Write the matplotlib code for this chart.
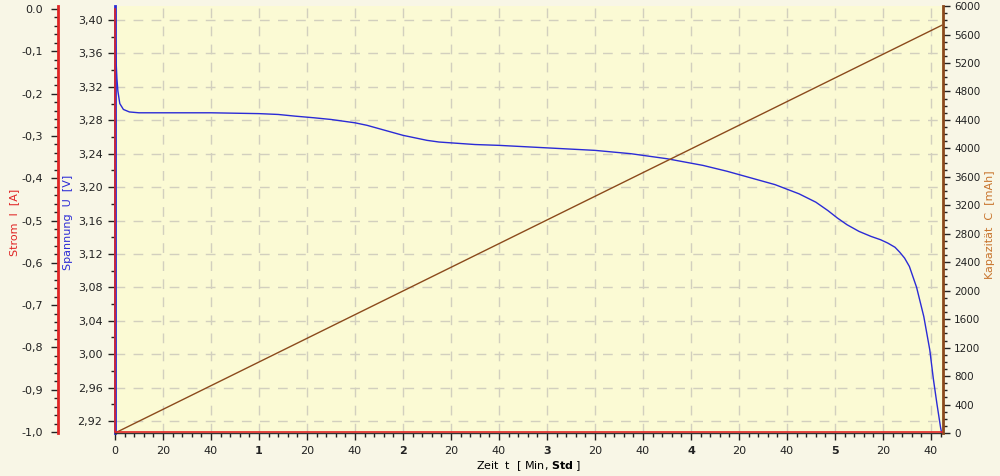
import matplotlib
matplotlib.use("Agg")
import matplotlib.pyplot as plt
from matplotlib.ticker import MultipleLocator, FixedLocator, FixedFormatter, FuncFormatter

# Entladekurve: Zeit in Minuten, Spannung in V
zeit_min = [0, 0.3, 0.8, 1.2, 2, 3.5, 6, 10, 40, 60, 68, 75, 83, 90, 95, 100, 105,
            110, 115, 120, 125, 130, 135, 140, 150, 160, 180, 200, 215, 230, 245,
            255, 265, 275, 285, 292, 297, 301, 305, 310, 315, 319, 322, 325, 327,
            329, 331, 334, 337, 339.5, 341, 342.5, 344, 344.5]
spannung_v = [3.385, 3.36, 3.33, 3.315, 3.30, 3.293, 3.290, 3.289, 3.289, 3.288,
              3.287, 3.285, 3.283, 3.281, 3.279, 3.277, 3.274, 3.270, 3.266, 3.262,
              3.259, 3.256, 3.254, 3.253, 3.251, 3.250, 3.247, 3.244, 3.240, 3.234,
              3.226, 3.219, 3.211, 3.203, 3.192, 3.182, 3.172, 3.163, 3.155, 3.147,
              3.141, 3.137, 3.133, 3.128, 3.122, 3.115, 3.105, 3.080, 3.045, 3.005,
              2.970, 2.940, 2.912, 2.905]

# Kapazitaet (mAh) und Strom (A)
kap_zeit = [0, 344.5]
kap_mah = [0, 5730]
strom_zeit = [0, 0, 344.5]
strom_a = [0.0, -1.0, -1.0]

# x-Achse: alle 20 Minuten, volle Stunden fett
x_ticks = list(range(0, 341, 20))
x_labels = [str(t // 60) if t % 60 == 0 and t > 0 else str(t % 60) for t in x_ticks]

bg = "#F8F6E6"
plot_bg = "#FBFAD4"
c_strom = "#E02525"
c_spann = "#2B2BD6"
c_kap = "#8B4A1C"
c_kap_text = "#C8742C"
grid_c = "#D2CFBE"

plt.rcParams['font.family'] = ['DejaVu Sans']
plt.rcParams['font.size'] = 8

fig = plt.figure(figsize=(10, 4.76), dpi=100, facecolor=bg)
ax = fig.add_axes([0.115, 0.0903, 0.828, 0.897])
ax.set_facecolor(plot_bg)

# Spannung
ax.plot(zeit_min, spannung_v, color=c_spann, lw=1.0, zorder=4)
ax.set_xlim(0, 345)
ax.set_ylim(2.9056, 3.4168)
ax.yaxis.set_major_locator(FixedLocator([2.92 + 0.04 * i for i in range(13)]))
ax.yaxis.set_minor_locator(MultipleLocator(0.02))
ax.yaxis.set_major_formatter(FuncFormatter(lambda v, p: f"{v:.2f}".replace(".", ",")))
ax.xaxis.set_major_locator(FixedLocator(x_ticks))
ax.xaxis.set_major_formatter(FixedFormatter(x_labels))
ax.xaxis.set_minor_locator(MultipleLocator(4))
ax.tick_params(axis='both', which='major', length=5, width=1, colors='#222222', pad=4)
ax.tick_params(axis='both', which='minor', length=3, width=1, colors='#222222')
for lab, t in zip(ax.get_xticklabels(), x_ticks):
    if t % 60 == 0 and t > 0:
        lab.set_fontweight('bold')
ax.grid(True, which='major', color=grid_c, ls=(0, (7, 6)), lw=1)
ax.set_axisbelow(True)
ax.spines['top'].set_visible(False)
ax.spines['right'].set_visible(False)
ax.spines['left'].set_color(c_spann)
ax.spines['left'].set_linewidth(2)
ax.spines['bottom'].set_color('#333333')
ax.spines['bottom'].set_linewidth(1)
ax.set_xlabel("Zeit  t  [ Min, $\\mathbf{Std}$ ]", fontsize=8, labelpad=3)

# Kapazitaet rechts
ax_k = ax.twinx()
ax_k.plot(kap_zeit, kap_mah, color=c_kap, lw=1.0, zorder=3)
ax_k.set_ylim(0, 6000)
ax_k.yaxis.set_major_locator(MultipleLocator(400))
ax_k.yaxis.set_minor_locator(MultipleLocator(100))
ax_k.tick_params(axis='y', which='major', length=5, width=1, colors='#222222', pad=3,
                 labelsize=7.5)
ax_k.tick_params(axis='y', which='minor', length=3, width=1, colors='#222222')
for s in ['top', 'left', 'bottom']:
    ax_k.spines[s].set_visible(False)
ax_k.spines['right'].set_color(c_kap)
ax_k.spines['right'].set_linewidth(2)

# Strom links aussen
ax_i = ax.twinx()
ax_i.plot(strom_zeit, strom_a, color=c_strom, lw=1.2, zorder=5, clip_on=False)
ax_i.set_ylim(-1.0024, 0.007)
ax_i.yaxis.set_ticks_position('left')
ax_i.spines['left'].set_position(('axes', -0.0688))
ax_i.spines['left'].set_visible(True)
for s in ['top', 'right', 'bottom']:
    ax_i.spines[s].set_visible(False)
ax_i.spines['left'].set_color(c_strom)
ax_i.spines['left'].set_linewidth(2)
ax_i.yaxis.set_major_locator(MultipleLocator(0.1))
ax_i.yaxis.set_minor_locator(MultipleLocator(0.02))
ax_i.yaxis.set_major_formatter(FuncFormatter(
    lambda v, p: "0.0" if abs(v) < 1e-9 else f"{v:.1f}".replace(".", ",")))
ax_i.tick_params(axis='y', which='major', length=5, width=1, colors='#222222', pad=6)
ax_i.tick_params(axis='y', which='minor', length=3, width=1, colors='#222222')

# Achsentitel
fig.text(0.014, 0.532, "Strom  I  [A]", rotation=90, color=c_strom,
         ha='center', va='center', fontsize=8)
fig.text(0.068, 0.532, "Spannung  U  [V]", rotation=90, color=c_spann,
         ha='center', va='center', fontsize=8)
fig.text(0.990, 0.527, "Kapazität  C  [mAh]", rotation=90, color=c_kap_text,
         ha='center', va='center', fontsize=8)

fig.savefig("out.png", dpi=100, facecolor=bg)
